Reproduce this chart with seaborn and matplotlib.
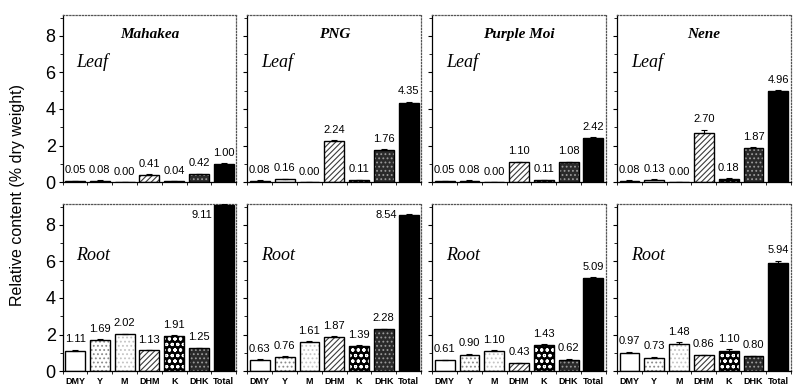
import numpy as np
import pandas as pd
import matplotlib
matplotlib.use("Agg")
import matplotlib.pyplot as plt
from matplotlib.patches import Rectangle
from matplotlib.ticker import MultipleLocator, FixedLocator
import seaborn as sns

sns.set_theme(style="white")
plt.rcParams['font.family'] = ['Liberation Sans', 'DejaVu Sans']
plt.rcParams['text.color'] = 'black'
plt.rcParams['xtick.color'] = 'black'
plt.rcParams['ytick.color'] = 'black'
plt.rcParams['hatch.linewidth'] = 0.8

compounds = ["DMY", "Y", "M", "DHM", "K", "DHK", "Total"]
cultivars = ["Mahakea", "PNG", "Purple Moi", "Nene"]
tissues = ["Leaf", "Root"]

leaf_mahakea = [0.05, 0.08, 0.00, 0.41, 0.04, 0.42, 1.00]
leaf_png = [0.08, 0.16, 0.00, 2.24, 0.11, 1.76, 4.35]
leaf_purplemoi = [0.05, 0.08, 0.00, 1.10, 0.11, 1.08, 2.42]
leaf_nene = [0.08, 0.13, 0.00, 2.70, 0.18, 1.87, 4.96]
root_mahakea = [1.11, 1.69, 2.02, 1.13, 1.91, 1.25, 9.11]
root_png = [0.63, 0.76, 1.61, 1.87, 1.39, 2.28, 8.54]
root_purplemoi = [0.61, 0.90, 1.10, 0.43, 1.43, 0.62, 5.09]
root_nene = [0.97, 0.73, 1.48, 0.86, 1.10, 0.80, 5.94]

leaf_mahakea_err = [0.01, 0.01, 0.00, 0.02, 0.01, 0.02, 0.02]
leaf_png_err = [0.01, 0.02, 0.00, 0.05, 0.01, 0.04, 0.05]
leaf_purplemoi_err = [0.01, 0.01, 0.00, 0.02, 0.01, 0.03, 0.04]
leaf_nene_err = [0.01, 0.02, 0.00, 0.16, 0.02, 0.04, 0.05]
root_mahakea_err = [0.06, 0.05, 0.02, 0.02, 0.04, 0.03, 0.05]
root_png_err = [0.02, 0.05, 0.03, 0.04, 0.03, 0.05, 0.04]
root_purplemoi_err = [0.02, 0.04, 0.03, 0.02, 0.03, 0.05, 0.04]
root_nene_err = [0.10, 0.04, 0.09, 0.04, 0.10, 0.03, 0.10]

values = {
    ("Leaf", "Mahakea"): (leaf_mahakea, leaf_mahakea_err),
    ("Leaf", "PNG"): (leaf_png, leaf_png_err),
    ("Leaf", "Purple Moi"): (leaf_purplemoi, leaf_purplemoi_err),
    ("Leaf", "Nene"): (leaf_nene, leaf_nene_err),
    ("Root", "Mahakea"): (root_mahakea, root_mahakea_err),
    ("Root", "PNG"): (root_png, root_png_err),
    ("Root", "Purple Moi"): (root_purplemoi, root_purplemoi_err),
    ("Root", "Nene"): (root_nene, root_nene_err),
}

rows = []
for (t, c), (v, e) in values.items():
    for comp, val, err in zip(compounds, v, e):
        rows.append(dict(tissue=t, cultivar=c, compound=comp, value=val, err=err))
df = pd.DataFrame(rows)

# face, hatch, hatch colour
styles = {
    "DMY": ("white", None, "black"),
    "Y": ("white", "....", "#8a8a8a"),
    "M": ("white", "....", "#c4c4c4"),
    "DHM": ("white", "//////", "#3a3a3a"),
    "K": ("black", "ooo", "white"),
    "DHK": ("#2a2a2a", "....", "#9a9a9a"),
    "Total": ("black", None, "black"),
}

YMAX = 9.15
fig, axes = plt.subplots(2, 4, figsize=(7.93, 3.89), dpi=100, sharey=True)
fig.subplots_adjust(left=0.079, right=0.997, top=0.962, bottom=0.046,
                    wspace=0.065, hspace=0.13)

for r, t in enumerate(tissues):
    for ci, c in enumerate(cultivars):
        ax = axes[r, ci]
        sub = df[(df.tissue == t) & (df.cultivar == c)]
        sns.barplot(data=sub, x="compound", y="value", order=compounds,
                    color="white", width=0.8, ax=ax, errorbar=None,
                    linewidth=0)
        ax.set_ylim(0, YMAX)
        ax.set_xlim(-0.5, 6.5)
        for p, comp in zip(ax.patches, compounds):
            face, hatch, hc = styles[comp]
            p.set_facecolor(face)
            p.set_hatch(hatch)
            p.set_edgecolor(hc)
            p.set_linewidth(0)
            ax.add_patch(Rectangle((p.get_x(), p.get_y()), p.get_width(),
                                   p.get_height(), facecolor="none",
                                   edgecolor="black", linewidth=1.0, zorder=3))
        xs = [p.get_x() + p.get_width() / 2 for p in ax.patches[:7]]
        ax.errorbar(xs, sub.value, yerr=[np.zeros(7), sub.err.values],
                    fmt="none", ecolor="black", elinewidth=0.8, capsize=2.5,
                    capthick=0.8, zorder=4)
        for x, val, err in zip(xs, sub.value, sub.err):
            if val + err > YMAX - 1.0:
                ax.text(x - 0.45, YMAX - 0.6, f"{val:.2f}", ha="right",
                        va="center", fontsize=8)
            else:
                ax.annotate(f"{val:.2f}", (x, val + err), xytext=(0, 4),
                            textcoords="offset points", ha="center",
                            va="bottom", fontsize=8)
        if r == 0:
            ax.text(0.5, 0.885, c, transform=ax.transAxes, ha="center",
                    va="center", family="Liberation Serif", style="italic",
                    fontweight="bold", fontsize=11)
        ax.text(0.08, 0.72 if r == 0 else 0.69, t, transform=ax.transAxes,
                ha="left", va="center", family="Liberation Serif",
                style="italic", fontsize=13)
        # spines
        for s in ["top", "right"]:
            ax.spines[s].set_linestyle((0, (1, 1.5)))
            ax.spines[s].set_color("#555555")
            ax.spines[s].set_linewidth(0.9)
        ax.spines["left"].set_color("black")
        ax.spines["left"].set_linewidth(0.9)
        ax.spines["bottom"].set_color("black")
        ax.spines["bottom"].set_linewidth(0.9)
        ax.yaxis.set_major_locator(MultipleLocator(2))
        ax.yaxis.set_minor_locator(MultipleLocator(1))
        ax.tick_params(axis="y", which="major", direction="out", length=3,
                       width=0.8, left=True, labelsize=13, pad=2)
        ax.tick_params(axis="y", which="minor", direction="out", length=2,
                       width=0.6, left=True)
        ax.set_xlabel("")
        ax.set_ylabel("")
        ax.xaxis.set_minor_locator(FixedLocator(np.arange(-0.5, 7.0, 1.0)))
        ax.tick_params(axis="x", which="major", bottom=False, length=0,
                       labelsize=6.5, pad=4)
        ax.tick_params(axis="x", which="minor", bottom=True, direction="out",
                       length=2.5, width=0.6)
        if r == 0:
            ax.tick_params(axis="x", which="major", labelbottom=False)
        else:
            for lab in ax.get_xticklabels():
                lab.set_fontweight("bold")
        if ci > 0:
            ax.tick_params(axis="y", labelleft=False)

fig.text(0.022, 0.5, "Relative content (% dry weight)", rotation=90,
         ha="center", va="center", fontsize=11.5)

fig.savefig("out.png", dpi=100, facecolor="white")
